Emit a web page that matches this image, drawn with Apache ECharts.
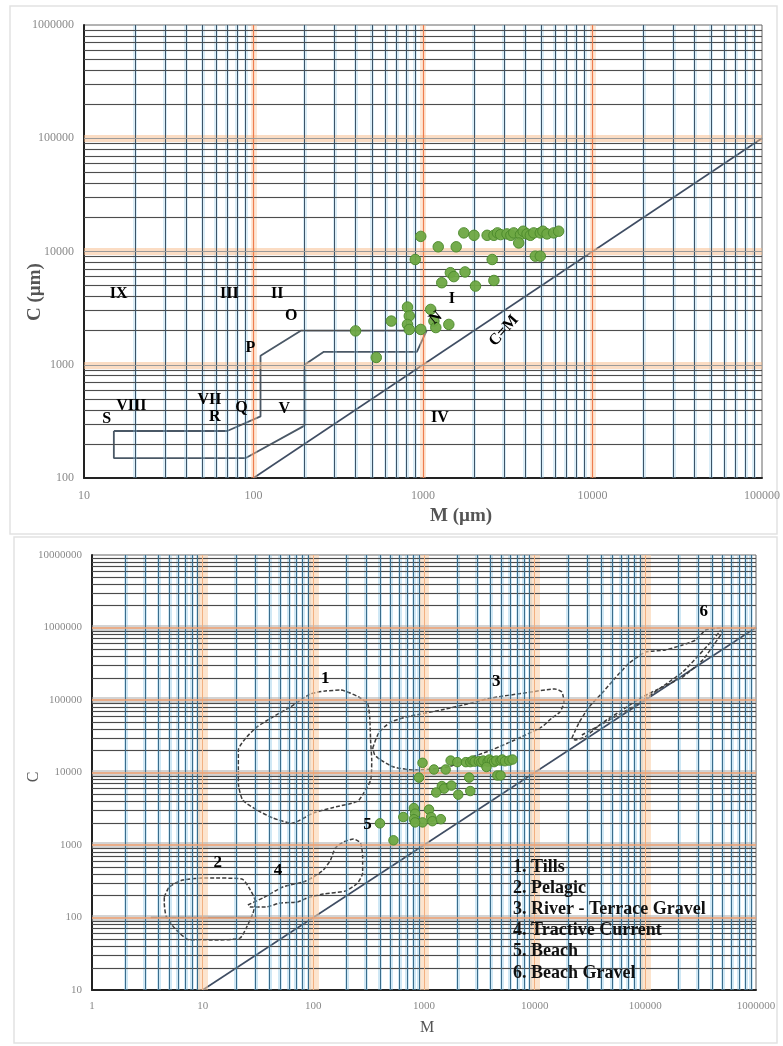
<!DOCTYPE html>
<html><head><meta charset="utf-8">
<script src="https://cdn.jsdelivr.net/npm/echarts@6/dist/echarts.min.js"></script>
<style>html,body{margin:0;padding:0;background:#fff}#c{width:783px;height:1046px}</style>
</head><body><div id="c"></div>
<script>
// ---- data: samples (M, C in µm) ----
const samples = [
  [970,13600],[1230,11000],[1570,11000],[900,8500],[1740,14600],[2000,13900],
  [2390,13900],[2620,13900],[2750,14600],[2870,14100],[3130,14300],[3300,13900],[3430,14600],
  [3760,14100],[3900,15100],[4110,14300],[4300,13900],[4500,14600],[4920,14600],[5100,15100],
  [5390,14300],[5900,14600],[6310,15100],
  [3670,11900],[2560,8500],[4600,9100],[4920,9100],[1450,6500],[1520,6000],[1770,6600],
  [1290,5300],[2040,4950],[2620,5550],[810,3230],[830,2700],[1110,3080],[650,2430],
  [810,2270],[1160,2430],[1190,2130],[1420,2270],[970,2050],[400,1990],[530,1160],[830,2050]
];
// ---- top chart (Passega C-M) ----
const topCM = [[100,100],[100000,100000]];
const topUpper = [[15,260],[70,260],[110,350],[110,1200],[190,2000],[1050,2000]];
const topLower = [[15,260],[15,150],[90,150],[200,290],[200,1000],[260,1300],[920,1300],[1050,2000]];
const topLabelNames = ['IX','III','II','O','P','VIII','VII','R','Q','V','S','I','N','C=M','IV'];
const topLabelM = [16,72,138,167,96,19,55,59,85,152,13.6,1480,1190,3000,1260];
const topLabelC = [4200,4200,4200,2700,1400,430,490,345,420,405,330,3850,2600,2000,340];
const topXTicks = ['10','100','1000','10000','100000'];
const topYTicks = ['100','1000','10000','100000','1000000'];
// ---- bottom chart ----
const botCM = [[10,10],[1000000,1000000]];
const tills = [[21,10800],[21,20400],[25,30900],[31,42500],[43,58300],[62,80000],[94,121000],[128,133000],[176,137000],[257,110000],[310,88000],[323,58300],[330,25500],[337,14900],[330,7900],[285,5200],[251,4000],[152,3300],[100,2760],[64,2000],[43,2360],[31,3040],[23,4180],[21,7160],[21,10800]];
const pelagic = [[4.5,192],[5,264],[6.6,329],[11,351],[22.6,340],[27,239],[30,164],[28.5,115],[25,74],[21.7,52],[12.3,49],[7.6,49],[5.8,67],[4.7,102],[4.5,158],[4.5,192]];
const pelagicBase = [[3.4,100],[31,100]];
const riverTerrace = [[344,21800],[390,35100],[500,49700],[760,60100],[1430,72800],[2680,91000],[4070,106600],[8100,125000],[15200,141800],[17600,128900],[18400,93800],[16900,68300],[14300,56500],[11600,42500],[6600,28100],[4070,20400],[2310,14900],[1650,11900],[810,10800],[534,11900],[406,14900],[359,17400],[344,21800]];
const tractive = [[25.6,149],[35,186],[53,264],[81,309],[100,362],[123,452],[143,621],[158,910],[187,1100],[231,1210],[267,1066],[279,683],[279,411],[251,299],[195,232],[123,211],[88,186],[72,164],[50,158],[37,140],[27,140],[25.6,149]];
const beachGravel = [[21700,29900],[25100,48200],[31000,80000],[40700,125000],[53400,201000],[71600,324000],[100000,459000],[152000,489000],[217000,574000],[285000,672000],[351000,924000],[471000,985000],[501000,895000],[433000,631000],[330000,356000],[217000,207000],[143000,151000],[94000,110000],[61800,72800],[40700,48200],[28500,30900],[23100,28100],[21700,29900]];
const beachGravelInner = [[26700,32900],[76200,80000],[217000,243000],[406000,672000],[481000,924000]];
const botLabelNames = ['1','2','3','4','5','6'];
const botLabelM = [128,13.7,4500,48,308,337000];
const botLabelC = [200000,580,180000,450,1930,1650000];
const legendLines = ['1. Tills','2. Pelagic','3. River - Terrace Gravel','4. Tractive Current','5. Beach','6. Beach Gravel'];
const botXTicks = ['1','10','100','1000','10000','100000','1000000'];
const botYTicks = ['10','100','1000','10000','100000','1000000','10000000'];

const SERIF = '"Liberation Serif","DejaVu Serif",serif';
const chart = echarts.init(document.getElementById('c'));

function gridVals(minExp, maxExp) {
  const minor = [], major = [];
  for (let e = minExp; e < maxExp; e++) {
    if (e > minExp) major.push(Number(Math.pow(10, e).toPrecision(6)));
    for (let m = 2; m <= 9; m++) minor.push(Number((m * Math.pow(10, e)).toPrecision(6)));
  }
  return { minor, major };
}
function ml(axisKey, vals, style) {
  return vals.map(v => ({ [axisKey]: v, lineStyle: style }));
}
function gridSeries(idx, xr, yr, st) {
  const xv = gridVals(xr[0], xr[1]), yv = gridVals(yr[0], yr[1]);
  const base = { type: 'line', xAxisIndex: idx, yAxisIndex: idx, data: [[Math.pow(10, xr[0]), Math.pow(10, yr[0])]],
    showSymbol: false, symbolSize: 0, silent: true, lineStyle: { opacity: 0 }, animation: false };
  const mk = data => ({ silent: true, symbol: ['none', 'none'], label: { show: false }, animation: false, emphasis: { disabled: true }, data });
  return [
    Object.assign({}, base, { z: 1, markLine: mk([].concat(
      ml('xAxis', xv.minor, st.vMinorHalo), ml('xAxis', xv.major, st.vMajorHalo),
      ml('yAxis', yv.major, st.hMajorHalo), ml('yAxis', yv.minor, st.hMinorHalo))) }),
    Object.assign({}, base, { z: 2, markLine: mk([].concat(
      ml('yAxis', yv.minor, st.hMinor), ml('xAxis', xv.minor, st.vMinor),
      ml('xAxis', xv.major, st.vMajor), ml('yAxis', yv.major, st.hMajor))) })
  ];
}
const topStyles = {
  vMinorHalo: { color: 'rgba(140,200,230,0.32)', width: 4, type: 'solid' },
  vMajorHalo: { color: 'rgba(250,195,150,0.4)', width: 6, type: 'solid' },
  hMinorHalo: { color: 'rgba(120,120,120,0.08)', width: 3, type: 'solid' },
  hMajorHalo: { color: 'rgba(248,185,135,0.5)', width: 7, type: 'solid' },
  vMinor: { color: '#3c5468', width: 1, type: 'solid' },
  vMajor: { color: '#ee7d4e', width: 1.2, type: 'solid' },
  hMinor: { color: '#4d4d4d', width: 1.1, type: 'solid' },
  hMajor: { color: '#9a9a9a', width: 1, type: 'solid' }
};
const botStyles = {
  vMinorHalo: { color: 'rgba(120,190,225,0.35)', width: 4, type: 'solid' },
  vMajorHalo: { color: 'rgba(250,205,165,0.55)', width: 10, type: 'solid' },
  hMinorHalo: { color: 'rgba(120,120,120,0.1)', width: 3, type: 'solid' },
  hMajorHalo: { color: 'rgba(175,175,175,0.55)', width: 6, type: 'solid' },
  vMinor: { color: '#3b6d8c', width: 1, type: 'solid' },
  vMajor: { color: '#f2b080', width: 1, type: 'solid' },
  hMinor: { color: '#4a4a4a', width: 1, type: 'solid' },
  hMajor: { color: '#f0a070', width: 1.5, type: 'solid' }
};

function logAxis(gi, min, max, ticks, pos, fontSize, margin) {
  return {
    type: 'log', logBase: 10, gridIndex: gi, min, max, position: pos,
    axisLine: { show: true, onZero: false, lineStyle: { color: '#222', width: 2 } },
    axisTick: { show: false }, splitLine: { show: false }, minorTick: { show: false },
    axisLabel: { color: '#8a8a8a', fontFamily: SERIF, fontSize, margin,
      formatter: v => { const s = String(Math.round(v)); return ticks.indexOf(s) >= 0 ? s : ''; } }
  };
}
const polyLine = (gi, data, style, smooth) => ({
  type: 'line', xAxisIndex: gi, yAxisIndex: gi, data, showSymbol: false, symbol: 'none', silent: true,
  smooth: smooth || false, z: 3, lineStyle: style, animation: false
});
const textSeries = (gi, names, ms, cs, fontSize, rot) => ({
  type: 'scatter', xAxisIndex: gi, yAxisIndex: gi, symbolSize: 2, z: 6, zlevel: 1, silent: true, animation: false,
  itemStyle: { color: 'rgba(0,0,0,0)' },
  data: names.map((n, i) => ({ name: n, value: [ms[i], cs[i]], label: { rotate: (rot && rot[n]) || 0 } })),
  label: { show: true, position: 'inside', formatter: p => p.name, color: '#000', opacity: 1,
    fontFamily: SERIF, fontWeight: 'bold', fontSize, textBorderWidth: 0 }
});
const dots = (gi, size) => ({
  type: 'scatter', xAxisIndex: gi, yAxisIndex: gi, data: samples, symbolSize: size, z: 5, animation: false,
  itemStyle: { color: '#6ea843', borderColor: '#4c8a2c', borderWidth: 1, opacity: 0.95 }
});

const topSolid = { color: '#4a5866', width: 1.8, type: 'solid' };
const cmStyle = { color: '#3f4d63', width: 1.6, type: 'solid' };
const dash = { color: '#3c3c3c', width: 1.5, type: [4, 2] };

const option = {
  backgroundColor: '#fff',
  animation: false,
  grid: [
    { left: 84, top: 25, width: 679, height: 453, show: true, borderColor: '#666', borderWidth: 1 },
    { left: 92, top: 555, width: 664, height: 435, show: true, borderColor: '#666', borderWidth: 1 }
  ],
  xAxis: [
    logAxis(0, 10, 100000, topXTicks, 'bottom', 12, 12),
    logAxis(1, 1, 1000000, botXTicks, 'bottom', 11, 11)
  ],
  yAxis: [
    logAxis(0, 100, 1000000, topYTicks, 'left', 12, 10),
    logAxis(1, 10, 10000000, botYTicks, 'left', 11, 10)
  ],
  graphic: [
    { type: 'rect', shape: { x: 10, y: 6, width: 767, height: 528 }, style: { fill: 'none', stroke: '#e2e2e2', lineWidth: 1.5 }, z: -10, silent: true },
    { type: 'rect', shape: { x: 14, y: 537, width: 763, height: 506 }, style: { fill: 'none', stroke: '#e2e2e2', lineWidth: 1.5 }, z: -10, silent: true },
    { type: 'text', x: 461, y: 516, style: { text: 'M (µm)', font: 'bold 19px ' + SERIF, fill: '#555', align: 'center', verticalAlign: 'middle' }, silent: true },
    { type: 'text', x: 35, y: 292, rotation: Math.PI / 2, style: { text: 'C (µm)', font: 'bold 19px ' + SERIF, fill: '#555', align: 'center', verticalAlign: 'middle' }, silent: true },
    { type: 'text', x: 427, y: 1028, style: { text: 'M', font: '16px ' + SERIF, fill: '#555', align: 'center', verticalAlign: 'middle' }, silent: true },
    { type: 'text', x: 34, y: 777, rotation: Math.PI / 2, style: { text: 'C', font: '16px ' + SERIF, fill: '#555', align: 'center', verticalAlign: 'middle' }, silent: true }
  ].concat(legendLines.map((t, i) => ({
      type: 'text', x: 513, y: 867 + i * 21.2, z: 100, zlevel: 1,
      style: { text: t, font: 'bold 18px ' + SERIF, fill: '#111', verticalAlign: 'middle' }, silent: true }))),
  series: [].concat(
    gridSeries(0, [1, 5], [2, 6], topStyles),
    gridSeries(1, [0, 6], [1, 7], botStyles),
    [
      polyLine(0, topCM, cmStyle),
      polyLine(0, topUpper, topSolid),
      polyLine(0, topLower, topSolid),
      dots(0, 10.5),
      textSeries(0, topLabelNames, topLabelM, topLabelC, 16, { 'C=M': 48, 'N': 40 }),
      polyLine(1, botCM, cmStyle),
      polyLine(1, tills, dash, 0.2),
      polyLine(1, pelagic, dash, 0.2),
      polyLine(1, pelagicBase, { color: '#333', width: 1.4, type: 'solid' }),
      polyLine(1, riverTerrace, dash, 0.2),
      polyLine(1, tractive, dash, 0.2),
      polyLine(1, beachGravel, dash, 0.15),
      polyLine(1, beachGravelInner, dash, 0.15),
      dots(1, 9.5),
      textSeries(1, botLabelNames, botLabelM, botLabelC, 17)
    ]
  )
};
chart.setOption(option);
</script>
</body></html>
